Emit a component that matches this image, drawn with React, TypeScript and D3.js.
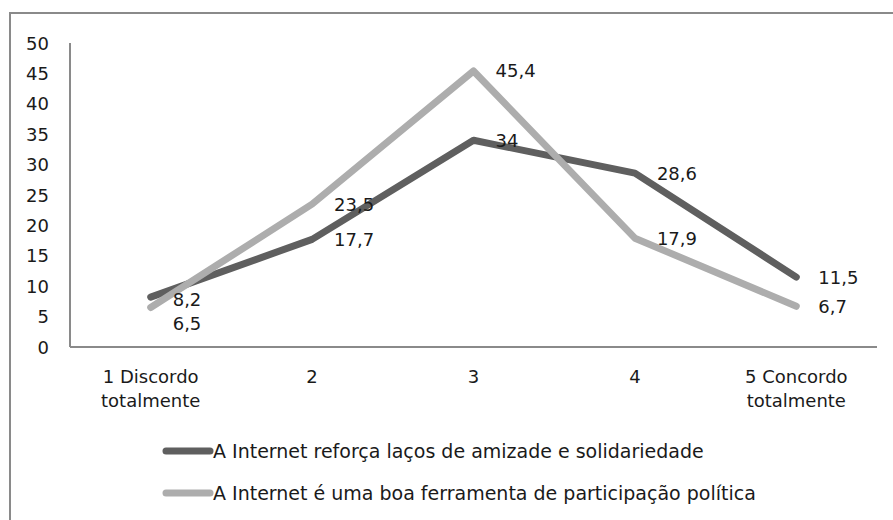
import React from "react";
import * as d3 from "d3";

const categories = ["1 Discordo\ntotalmente", "2", "3", "4", "5 Concordo\ntotalmente"];
const seriesNames = [
  "A Internet reforça laços de amizade e solidariedade",
  "A Internet é uma boa ferramenta de participação política",
];
const seriesA = [8.2, 17.7, 34, 28.6, 11.5];
const seriesB = [6.5, 23.5, 45.4, 17.9, 6.7];
const yTicks = [0, 5, 10, 15, 20, 25, 30, 35, 40, 45, 50];
const colors = ["#5f5f5f", "#adadad"];

const W = 893;
const H = 520;
const FONT = "'DejaVu Sans', Verdana, sans-serif";

export default function App() {
  const x = d3.scaleBand<string>().domain(categories).range([70, 877]);
  const y = d3.scaleLinear().domain([0, 50]).range([347, 43]);
  const cx = (c: string) => (x(c) as number) + x.bandwidth() / 2;
  const fmt = (v: number) => d3.format("~g")(v).replace(".", ",");
  const series = [seriesA, seriesB];
  const line = d3
    .line<number>()
    .x((_, i) => cx(categories[i]))
    .y((v) => y(v));

  // label positions with simple collision avoidance
  const labelY: number[][] = series.map((s) => s.map((v) => y(v)));
  categories.forEach((_, i) => {
    const a = labelY[0][i];
    const b = labelY[1][i];
    if (Math.abs(a - b) < 24) {
      if (a <= b) {
        labelY[0][i] = a + 2;
        labelY[1][i] = a + 26;
      } else {
        labelY[1][i] = b + 2;
        labelY[0][i] = b + 26;
      }
    }
  });

  return (
    <svg
      width={W}
      height={H}
      style={{ position: "absolute", left: 0, top: 0, background: "#fff" }}
      fontFamily={FONT}
    >
      <rect x={10} y={13} width={W} height={H} fill="#fff" stroke="#8a8a8a" strokeWidth={2} />
      {/* axes */}
      <line x1={70} x2={70} y1={y(50)} y2={y(0)} stroke="#8a8a8a" strokeWidth={2} />
      <line x1={70} x2={877} y1={y(0)} y2={y(0)} stroke="#8a8a8a" strokeWidth={2} />
      {yTicks.map((t) => (
        <text key={t} x={49} y={y(t)} textAnchor="end" dominantBaseline="central" fontSize={18} fill="#1a1a1a">
          {t}
        </text>
      ))}
      {categories.map((c) => (
        <text key={c} x={cx(c)} y={376} textAnchor="middle" dominantBaseline="central" fontSize={18} fill="#1a1a1a">
          {c.split("\n").map((ln, k) => (
            <tspan key={k} x={cx(c)} dy={k === 0 ? 0 : 24}>
              {ln}
            </tspan>
          ))}
        </text>
      ))}
      {/* lines */}
      {series.map((s, si) => (
        <path
          key={si}
          d={line(s) as string}
          fill="none"
          stroke={colors[si]}
          strokeWidth={7}
          strokeLinecap="round"
          strokeLinejoin="round"
        />
      ))}
      {/* labels */}
      {series.map((s, si) =>
        s.map((v, i) => (
          <text
            key={si + "-" + i}
            x={cx(categories[i]) + 22}
            y={labelY[si][i]}
            dominantBaseline="central"
            fontSize={18}
            fill="#1a1a1a"
          >
            {fmt(v)}
          </text>
        ))
      )}
      {/* legend */}
      {seriesNames.map((n, si) => {
        const ly = 451 + si * 42;
        return (
          <g key={n}>
            <line x1={166} x2={210} y1={ly} y2={ly} stroke={colors[si]} strokeWidth={7} strokeLinecap="round" />
            <text x={213} y={ly} dominantBaseline="central" fontSize={19} fill="#1a1a1a">
              {n}
            </text>
          </g>
        );
      })}
    </svg>
  );
}
